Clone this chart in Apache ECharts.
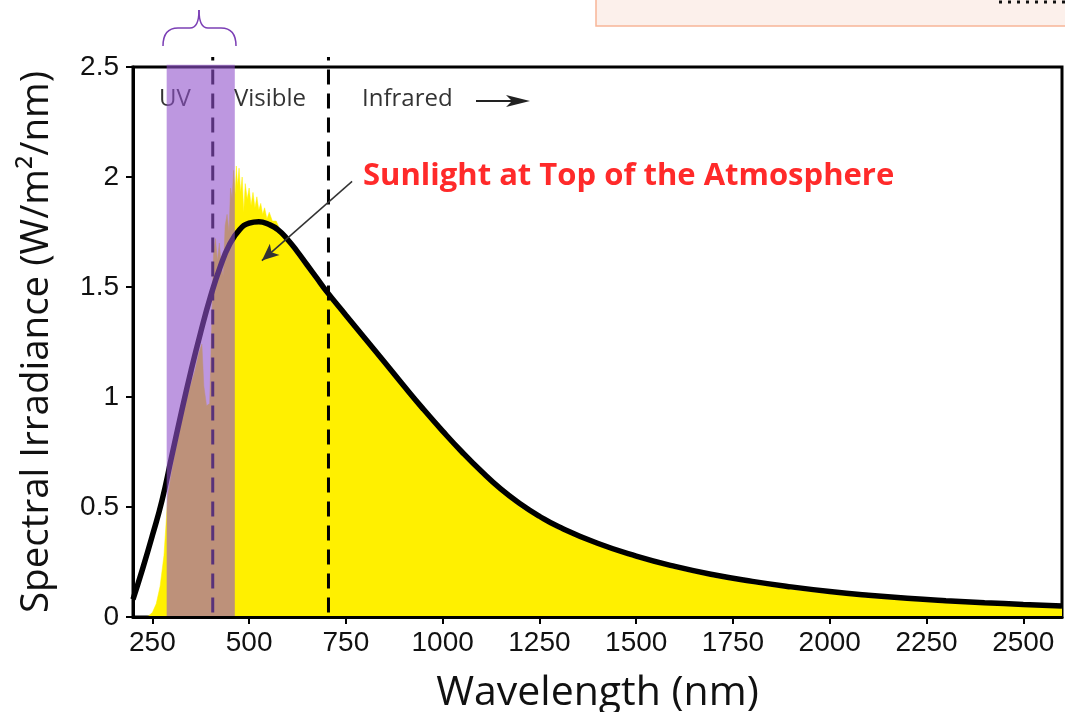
<!DOCTYPE html>
<html><head><meta charset="utf-8">
<script src="https://cdn.jsdelivr.net/npm/echarts@6/dist/echarts.min.js"></script>
<style>html,body{margin:0;padding:0;background:#fff}#chart{width:1065px;height:712px}</style>
</head><body><div id="chart"></div>
<script>
// Smooth reference curve (black)
const curveNm  = [200, 225, 250, 275, 300, 325, 350, 375, 400, 425, 450, 475, 500, 525, 550, 575, 600, 625, 650, 675, 700, 750, 800, 850, 900, 950, 1000, 1050, 1100, 1150, 1200, 1250, 1300, 1400, 1500, 1600, 1700, 1800, 1900, 2000, 2100, 2200, 2300, 2400, 2500, 2600];
const curveVal = [0.08, 0.22, 0.37, 0.53, 0.73, 0.93, 1.12, 1.295, 1.455, 1.59, 1.695, 1.76, 1.79, 1.797, 1.785, 1.76, 1.715, 1.66, 1.60, 1.54, 1.48, 1.372, 1.265, 1.158, 1.05, 0.945, 0.845, 0.75, 0.662, 0.582, 0.515, 0.458, 0.41, 0.335, 0.277, 0.23, 0.192, 0.162, 0.137, 0.116, 0.099, 0.085, 0.074, 0.065, 0.057, 0.05];
// Measured spectrum at top of atmosphere (yellow)
const specNm  = [232, 240, 250, 260, 270, 280, 290, 300, 310, 320, 330, 340, 350, 360, 370, 378, 383, 390, 398, 403, 408, 413, 418, 423, 428, 433, 438, 443, 448, 452, 456, 460, 464, 467, 470, 474, 478, 482, 486, 490, 495, 500, 505, 510, 515, 520, 525, 530, 535, 540, 546, 552, 560, 570, 580, 590, 600, 650, 700, 750, 800, 850, 900, 950, 1000, 1100, 1200, 1300, 1400, 1500, 1600, 1700, 1800, 1900, 2000, 2100, 2200, 2300, 2400, 2500, 2600];
const specVal = [0, 0.005, 0.02, 0.06, 0.14, 0.28, 0.55, 0.66, 0.76, 0.84, 0.93, 1.00, 1.06, 1.12, 1.20, 1.24, 1.05, 0.96, 0.97, 1.30, 1.65, 1.72, 1.62, 1.70, 1.60, 1.55, 1.78, 1.83, 1.75, 1.95, 1.90, 2.03, 1.92, 2.05, 1.96, 2.04, 1.93, 2.00, 1.84, 1.97, 1.90, 1.95, 1.87, 1.93, 1.86, 1.91, 1.85, 1.88, 1.83, 1.86, 1.81, 1.84, 1.80, 1.80, 1.76, 1.73, 1.70, 1.58, 1.46, 1.355, 1.25, 1.14, 1.035, 0.93, 0.83, 0.645, 0.498, 0.397, 0.325, 0.265, 0.218, 0.18, 0.15, 0.125, 0.104, 0.088, 0.075, 0.064, 0.056, 0.049, 0.043];
const xTickValues = [250, 500, 750, 1000, 1250, 1500, 1750, 2000, 2250, 2500];
const uvBand = [287, 463];
const dividerNm = [406, 705];
const annotArrow = [[766, 1.98], [533, 1.62]];

const chart = echarts.init(document.getElementById('chart'), null, {renderer: 'canvas'});
const zip = (a, b) => a.map((v, i) => [v, b[i]]);
const labelFont = 'Liberation Sans';
const titleFont = 'Open Sans';
const braceStyle = {stroke: '#7B3FB5', lineWidth: 1.5, fill: 'none'};

chart.setOption({
  animation: false,
  backgroundColor: '#fff',
  grid: {left: 133, right: 3, top: 67, bottom: 95, outerBoundsMode: 'none', containLabel: false,
    show: true, borderColor: '#000', borderWidth: 3, backgroundColor: 'transparent'},
  xAxis: {
    type: 'value', min: 200, max: 2600, z: 20,
    name: 'Wavelength (nm)', nameLocation: 'middle', nameGap: 56,
    nameTextStyle: {fontFamily: titleFont, fontSize: 41, color: '#111'},
    axisLine: {show: true, lineStyle: {color: '#000', width: 3}},
    axisTick: {show: true, customValues: xTickValues, length: 7, lineStyle: {color: '#000', width: 2}},
    axisLabel: {customValues: xTickValues, formatter: v => String(v), fontFamily: labelFont, fontSize: 28, color: '#111', margin: 12},
    splitLine: {show: false}
  },
  yAxis: {
    type: 'value', min: 0, max: 2.5, interval: 0.5, z: 20,
    name: 'Spectral Irradiance (W/m²/nm)', nameLocation: 'middle', nameGap: 76,
    nameTextStyle: {fontFamily: titleFont, fontSize: 38.5, color: '#111'},
    axisLine: {show: true, lineStyle: {color: '#000', width: 3}},
    axisTick: {show: true, length: 7, lineStyle: {color: '#000', width: 2}},
    axisLabel: {fontFamily: labelFont, fontSize: 28, color: '#111', margin: 14},
    splitLine: {show: false}
  },
  series: [
    {
      type: 'line', name: 'spectrum', data: zip(specNm, specVal), symbol: 'none', z: 2,
      lineStyle: {width: 0.5, color: '#FFF000'},
      areaStyle: {color: '#FFF000', opacity: 1}
    },
    {
      type: 'line', name: 'curve', data: zip(curveNm, curveVal), symbol: 'none', smooth: 0.5, z: 3,
      lineStyle: {width: 5.5, color: '#000'},
      markLine: {
        silent: true, symbol: ['none', 'arrow'], symbolSize: [11, 17],
        label: {show: false},
        lineStyle: {color: '#333', width: 1.5, type: 'solid'},
        data: [[{coord: annotArrow[0]}, {coord: annotArrow[1]}]]
      }
    },
    {
      type: 'custom', name: 'dividers', z: 4, clip: false,
      data: dividerNm.map(v => [v]),
      renderItem: (params, api) => {
        const p0 = api.coord([api.value(0), 0.02]);
        const p1 = api.coord([api.value(0), 2.545]);
        return {type: 'line', shape: {x1: p0[0], y1: p0[1], x2: p1[0], y2: p1[1]},
          style: {stroke: '#000', lineWidth: 3, lineDash: [15, 9]}};
      }
    },
    {
      type: 'custom', name: 'uvband', z: 10, clip: false,
      data: [uvBand],
      renderItem: (params, api) => {
        const a = api.coord([api.value(0), 2.51]);
        const b = api.coord([api.value(1), 0]);
        return {type: 'rect', shape: {x: a[0], y: a[1], width: b[0] - a[0], height: b[1] - a[1]},
          style: {fill: 'rgba(145,82,203,0.6)'}};
      }
    }
  ],
  graphic: [
    {type: 'rect', shape: {x: 596, y: -3, width: 480, height: 29}, style: {fill: '#FCF0EB', stroke: '#F8B598', lineWidth: 1.5}, z: 1},
    {type: 'line', shape: {x1: 999, y1: 2, x2: 1065, y2: 2}, style: {stroke: '#111', lineWidth: 3, lineDash: [3, 6]}, z: 2},
    {type: 'bezierCurve', shape: {x1: 163, y1: 46, cpx1: 163, cpy1: 28, x2: 178, y2: 28}, style: braceStyle, z: 30},
    {type: 'line', shape: {x1: 178, y1: 28, x2: 190, y2: 28}, style: braceStyle, z: 30},
    {type: 'bezierCurve', shape: {x1: 190, y1: 28, cpx1: 199, cpy1: 28, x2: 199, y2: 10}, style: braceStyle, z: 30},
    {type: 'bezierCurve', shape: {x1: 199, y1: 10, cpx1: 199, cpy1: 28, x2: 208, y2: 28}, style: braceStyle, z: 30},
    {type: 'line', shape: {x1: 208, y1: 28, x2: 221, y2: 28}, style: braceStyle, z: 30},
    {type: 'bezierCurve', shape: {x1: 221, y1: 28, cpx1: 236, cpy1: 28, x2: 236, y2: 46}, style: braceStyle, z: 30},
    {type: 'text', x: 175, y: 99, style: {text: 'UV', font: '24px "Open Sans"', fill: '#333', align: 'center', verticalAlign: 'middle'}, z: 5},
    {type: 'text', x: 234, y: 99, style: {text: 'Visible', font: '24px "Open Sans"', fill: '#333', align: 'left', verticalAlign: 'middle'}, z: 30},
    {type: 'text', x: 362, y: 99, style: {text: 'Infrared', font: '24px "Open Sans"', fill: '#333', align: 'left', verticalAlign: 'middle'}, z: 30},
    {type: 'line', shape: {x1: 476, y1: 101, x2: 515, y2: 101}, style: {stroke: '#222', lineWidth: 2}, z: 30},
    {type: 'polygon', shape: {points: [[530, 101], [506, 95], [512, 101], [506, 107]]}, style: {fill: '#222'}, z: 30},
    {type: 'text', x: 363, y: 176, style: {text: 'Sunlight at Top of the Atmosphere', font: 'bold 31px "Open Sans"', fill: '#FF2A2A', align: 'left', verticalAlign: 'middle'}, z: 30}
  ]
});
</script></body></html>
